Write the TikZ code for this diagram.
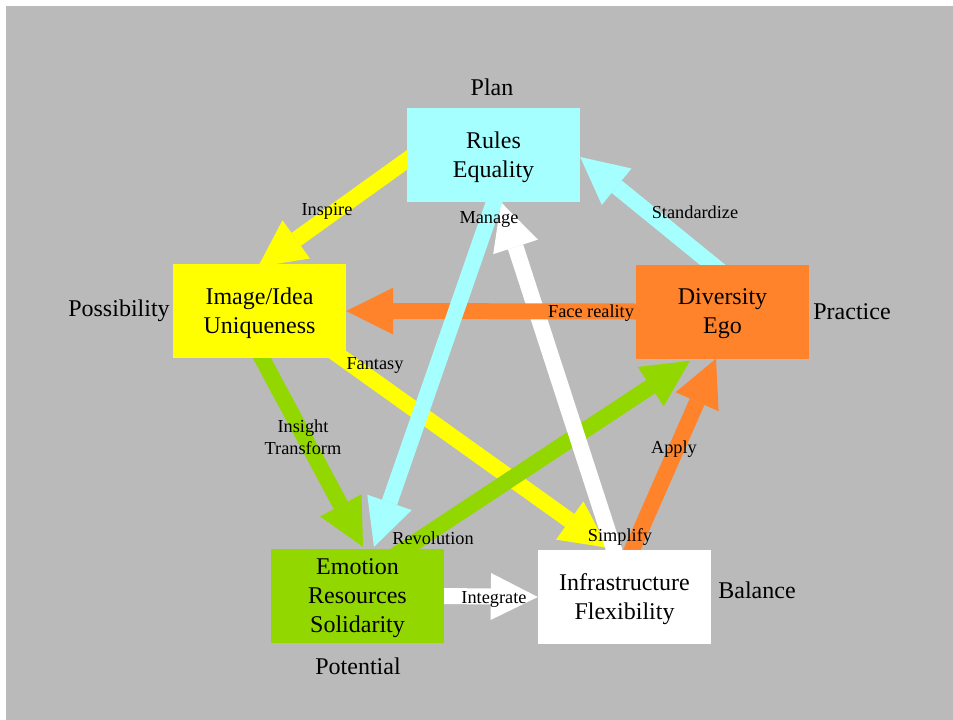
\documentclass[tikz,border=0pt]{standalone}
\usepackage{fontspec}
\setmainfont{Liberation Serif}
\usetikzlibrary{arrows.meta, calc}
\definecolor{bggray}{HTML}{BABABA}
\definecolor{cyanbox}{HTML}{A6FFFF}
\definecolor{ylwbox}{HTML}{FFFF00}
\definecolor{orgbox}{HTML}{FF832A}
\definecolor{grnbox}{HTML}{93D700}
\begin{document}
\begin{tikzpicture}[x=1pt, y=-1pt,
  box/.style={minimum width=173pt, minimum height=94pt, inner sep=0pt, align=center,
    text depth=0pt, font=\fontsize{24}{29}\selectfont},
  side/.style={inner sep=0pt, font=\fontsize{24}{29}\selectfont},
  lbl/.style={inner sep=0pt, align=center, font=\fontsize{18.3}{22}\selectfont},
  link/.style={line width=16pt, shorten <=-12pt,
    -{Triangle[length=47pt, width=47pt, line width=0pt]}}]
\useasboundingbox (0,0) rectangle (953,720);
\fill[white] (0,0) rectangle (953,720);
\fill[bggray] (6,6) rectangle (953,720);
\path (493.5,155) coordinate (c-rules) (259.5,311) coordinate (c-image)
  (722.5,311.5) coordinate (c-div) (357.5,596) coordinate (c-emo) (624.5,597) coordinate (c-infra);
\path (c-rules) node[box] (rules) {}
  (c-image) node[box] (image) {}
  (c-div) node[box] (div) {}
  (c-emo) node[box] (emo) {}
  (c-infra) node[box] (infra) {};
\draw[link, grnbox] ($(image.south)+(2.5,0)$) -- ($(emo.north)+(5.5,-2)$);
\draw[link, ylwbox] ($(rules.west)+(0,5)$) -- ($(image.north)+(-1.5,3)$);
\draw[link, ylwbox] ($(image.south east)+(-5,-1)$) -- ($(infra.north)+(-16.5,-2)$);
\draw[link, grnbox] ($(emo.north)+(47.5,0)$) -- ($(div.south)+(-32.5,2)$);
\draw[link, orgbox] ($(infra.north)+(7.5,0)$) -- ($(div.south)+(-6.5,0)$);
\draw[link, white] ($(infra.north)+(-10.5,0)$) -- ($(rules.south)+(7.5,0)$);
\draw[link, orgbox] (div.west) -- (image.east);
\draw[link, cyanbox] ($(rules.south)+(0.5,0)$) -- ($(emo.north)+(16.5,-2)$);
\draw[link, cyanbox] ($(div.north)+(-10.5,0)$) -- ($(rules.east)+(0,2)$);
\draw[link, white] (emo.east) -- (infra.west);
\node[box, fill=cyanbox] at (c-rules) {Rules\\Equality};
\node[box, fill=ylwbox] at (c-image) {Image/Idea\\Uniqueness};
\node[box, fill=orgbox] at (c-div) {Diversity\\Ego};
\node[box, fill=grnbox] at (c-emo) {Emotion\\Resources\\Solidarity};
\node[box, fill=white] at (c-infra) {Infrastructure\\Flexibility};
\node[side] (plan) at (492,87) {Plan};
\node[side] (poss) at (119,311) {Possibility};
\node[side] (prac) at (852,312) {Practice};
\node[side] (bal) at (757,590) {Balance};
\node[side] (pot) at (358,666) {Potential};
\node[lbl] (l-inspire) at (327,211) {Inspire};
\node[lbl] (l-std) at (695,212) {Standardize};
\node[lbl] (l-face) at (591,313) {Face reality};
\node[lbl] (l-manage) at (489,219) {Manage};
\node[lbl] (l-simplify) at (620,537) {Simplify};
\node[lbl] (l-fantasy) at (375,365) {Fantasy};
\node[lbl] (l-insight) at (303,437) {Insight\\Transform};
\node[lbl] (l-rev) at (433,538) {Revolution};
\node[lbl] (l-apply) at (674,449) {Apply};
\node[lbl] (l-integ) at (494,599) {Integrate};
\end{tikzpicture}
\end{document}
